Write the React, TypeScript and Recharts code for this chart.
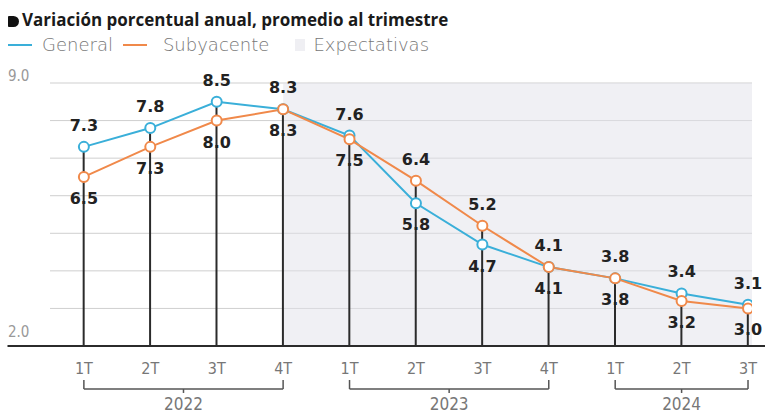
import React from 'react';
import {
  ComposedChart, Line, Bar, XAxis, YAxis, CartesianGrid, ReferenceArea,
  ReferenceLine, ReferenceDot, LabelList,
} from 'recharts';

// Datos
const quarters = ['1T', '2T', '3T', '4T', '1T', '2T', '3T', '4T', '1T', '2T', '3T'];
const general = [7.3, 7.8, 8.5, 8.3, 7.6, 5.8, 4.7, 4.1, 3.8, 3.4, 3.1];
const subyacente = [6.5, 7.3, 8.0, 8.3, 7.5, 6.4, 5.2, 4.1, 3.8, 3.2, 3.0];
const years = ['2022', '2023', '2024'];
const yearFirst = [0, 4, 8];
const yearLast = [3, 7, 10];
const expectStart = 3;
const yTicks = [2, 3, 4, 5, 6, 7, 8, 9];

const GEN = '#3aafd9';
const SUB = '#f0894a';
const INK = '#222';

const X_MIN = -0.51;
const X_MAX = 10.06;

const data = quarters.map((q, i) => ({
  idx: i,
  q,
  general: general[i],
  subyacente: subyacente[i],
  stem: Math.max(general[i], subyacente[i]),
}));

const labelFont = { fontFamily: 'DejaVu Sans', fontWeight: 700, fontSize: 16 };

const makeLabel = (key: 'general' | 'subyacente') => (props: any) => {
  const { x, y, index } = props;
  const g = general[index];
  const s = subyacente[index];
  const above = key === 'general' ? g >= s : s > g;
  const v = key === 'general' ? g : s;
  return (
    <text x={x} y={above ? y - 16 : y + 27} textAnchor="middle" fill={INK} style={labelFont}>
      {v.toFixed(1)}
    </text>
  );
};

const QuarterTick = (props: any) => {
  const { x, y, payload } = props;
  return (
    <text x={x} y={y + 20} textAnchor="middle" fill="#777"
      style={{ fontFamily: 'DejaVu Sans Condensed', fontSize: 16 }}>
      {quarters[payload.value]}
    </text>
  );
};

const YTick = (props: any) => {
  const { y, payload } = props;
  if (payload.value !== 2 && payload.value !== 9) return null;
  return (
    <text x={8} y={payload.value === 2 ? y - 9 : y - 2} textAnchor="start" fill="#999"
      style={{ fontFamily: 'DejaVu Sans Condensed', fontSize: 15 }}>
      {payload.value.toFixed(1)}
    </text>
  );
};

const yBracket = 0.855;
const yBracketUp = 1.095;
const yBracketDown = 0.75;
const yYear = 0.45;

export default function App() {
  return (
    <div style={{ position: 'absolute', left: 0, top: 0, width: 765, height: 416, background: '#fff', overflow: 'hidden' }}>
      <div style={{ position: 'absolute', left: 8, top: 16, width: 11, height: 11, background: '#111', borderRadius: '1px 6px 6px 1px' }} />
      <div style={{ position: 'absolute', left: 22, top: 8, fontFamily: 'Open Sans', fontWeight: 700, fontSize: 17, color: '#1a1a1a', whiteSpace: 'nowrap' }}>
        Variación porcentual anual, promedio al trimestre
      </div>
      <div style={{ position: 'absolute', left: 8, top: 34, fontFamily: 'DejaVu Sans', fontWeight: 200, fontSize: 18, color: '#777', whiteSpace: 'nowrap', display: 'flex', alignItems: 'center' }}>
        <span style={{ display: 'inline-block', width: 24, height: 2, background: GEN, marginRight: 10 }} />
        <span style={{ marginRight: 10 }}>General</span>
        <span style={{ display: 'inline-block', width: 24, height: 2, background: SUB, marginRight: 16 }} />
        <span style={{ marginRight: 26 }}>Subyacente</span>
        <span style={{ display: 'inline-block', width: 10, height: 12, background: '#efeff3', marginRight: 8 }} />
        <span>Expectativas</span>
      </div>
      <div style={{ position: 'absolute', left: 0, top: 0 }}>
        <ComposedChart width={765} height={416} data={data} margin={{ top: 83, right: 13, bottom: 40, left: 8 }}>
          <CartesianGrid vertical={false} stroke="#cfcfcf" />
          <ReferenceArea x1={expectStart} x2={X_MAX} y1={2} y2={9} fill="#e2e2ea" fillOpacity={0.5} ifOverflow="hidden" />
          <XAxis dataKey="idx" type="number" domain={[X_MIN, X_MAX]} allowDataOverflow
            ticks={quarters.map((_, i) => i)} axisLine={false} tickLine={false} height={30} tick={<QuarterTick />} />
          <YAxis type="number" domain={[2, 9]} ticks={yTicks} width={42} axisLine={false} tickLine={false} tick={<YTick />} />
          <Bar dataKey="stem" barSize={2} fill="#2b2b2b" isAnimationActive={false} />
          <ReferenceLine segment={[{ x: -1.15, y: 2 }, { x: 10.3, y: 2 }]} stroke="#2b2b2b" strokeWidth={2} ifOverflow="visible" />
          {years.map((yr, k) => {
            const a = yearFirst[k];
            const b = yearLast[k];
            const mid = (a + b) / 2;
            return (
              <React.Fragment key={yr}>
                <ReferenceLine segment={[{ x: a, y: yBracket }, { x: b, y: yBracket }]} stroke="#555" strokeWidth={1.5} ifOverflow="visible" />
                <ReferenceLine segment={[{ x: a, y: yBracket }, { x: a, y: yBracketUp }]} stroke="#555" strokeWidth={1.5} ifOverflow="visible" />
                <ReferenceLine segment={[{ x: b, y: yBracket }, { x: b, y: yBracketUp }]} stroke="#555" strokeWidth={1.5} ifOverflow="visible" />
                <ReferenceLine segment={[{ x: mid, y: yBracket }, { x: mid, y: yBracketDown }]} stroke="#555" strokeWidth={1.5} ifOverflow="visible" />
                <ReferenceDot x={mid} y={yYear} r={0} ifOverflow="visible"
                  shape={(p: any) => (
                    <text x={p.cx} y={p.cy + 6} textAnchor="middle" fill="#777"
                      style={{ fontFamily: 'DejaVu Sans Condensed', fontSize: 17 }}>{yr}</text>
                  )} />
              </React.Fragment>
            );
          })}
          <Line dataKey="general" type="linear" stroke={GEN} strokeWidth={2} isAnimationActive={false}
            dot={{ r: 5, fill: '#fff', stroke: GEN, strokeWidth: 2 }}>
            <LabelList dataKey="general" content={makeLabel('general')} />
          </Line>
          <Line dataKey="subyacente" type="linear" stroke={SUB} strokeWidth={2} isAnimationActive={false}
            dot={{ r: 5, fill: '#fff', stroke: SUB, strokeWidth: 2 }}>
            <LabelList dataKey="subyacente" content={makeLabel('subyacente')} />
          </Line>
        </ComposedChart>
      </div>
    </div>
  );
}
